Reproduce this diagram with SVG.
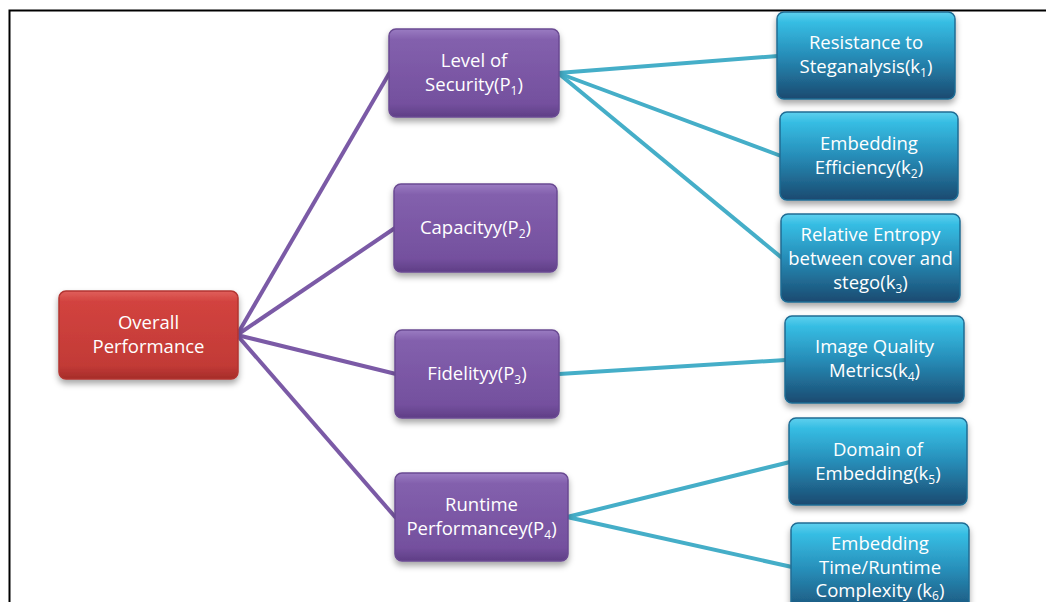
<svg xmlns="http://www.w3.org/2000/svg" width="1046" height="602" viewBox="0 0 1046 602">
<defs>
<linearGradient id="gRed" x1="0" y1="0" x2="0" y2="1">
<stop offset="0" stop-color="#e0605c"/><stop offset="0.12" stop-color="#d2433f"/><stop offset="0.85" stop-color="#c23a36"/><stop offset="1" stop-color="#a52c29"/>
</linearGradient>
<linearGradient id="gPur" x1="0" y1="0" x2="0" y2="1">
<stop offset="0" stop-color="#9a7cc2"/><stop offset="0.12" stop-color="#8360ad"/><stop offset="0.85" stop-color="#74509e"/><stop offset="1" stop-color="#5f3e86"/>
</linearGradient>
<linearGradient id="gBlu" x1="0" y1="0" x2="0" y2="1">
<stop offset="0" stop-color="#5fd0ee"/><stop offset="0.12" stop-color="#36bde3"/><stop offset="0.5" stop-color="#278db8"/><stop offset="1" stop-color="#1a4a70"/>
</linearGradient>
<filter id="sh" x="-10%" y="-10%" width="125%" height="135%">
<feDropShadow dx="0" dy="4" stdDeviation="3" flood-color="#000" flood-opacity="0.35"/>
</filter>
<style>
.r{fill:url(#gRed);stroke:#b23431;stroke-width:1.5;filter:url(#sh)}
.p{fill:url(#gPur);stroke:#6a4a92;stroke-width:1.5;filter:url(#sh)}
.b{fill:url(#gBlu);stroke:#1f6c94;stroke-width:1.5;filter:url(#sh)}
text{font-family:"Open Sans","Liberation Sans",sans-serif;font-size:18.5px;fill:#fff;text-anchor:middle}
.s{font-size:12px}
.cp{stroke:#7b5aa6;stroke-width:4;fill:none}
.cb{stroke:#45aec8;stroke-width:4;fill:none}
</style>
</defs>
<rect width="1046" height="602" fill="#fff"/>
<path d="M9.5,602 V10.5 H1046" fill="none" stroke="#000" stroke-width="2"/>
<g id="connectors">
<line class="cp" x1="237" y1="335" x2="390" y2="72"/>
<line class="cp" x1="237" y1="335" x2="395" y2="228"/>
<line class="cp" x1="237" y1="335" x2="396" y2="374"/>
<line class="cp" x1="237" y1="335" x2="396" y2="518"/>
<line class="cb" x1="558" y1="73" x2="778" y2="56"/>
<line class="cb" x1="558" y1="73" x2="781" y2="156"/>
<line class="cb" x1="558" y1="73" x2="782" y2="258"/>
<line class="cb" x1="559" y1="374" x2="786" y2="360"/>
<line class="cb" x1="567" y1="517" x2="790" y2="462"/>
<line class="cb" x1="567" y1="517" x2="792" y2="567"/>
</g>
<g id="overall"><rect class="r" x="59" y="291" width="179" height="88" rx="7"/>
<text x="148.5" y="329">Overall</text><text x="148.5" y="353">Performance</text></g>
<g id="p1"><rect class="p" x="389" y="29" width="170" height="88" rx="7"/>
<text x="474" y="67">Level of</text><text x="474" y="91">Security(P<tspan class="s" dy="4">1</tspan><tspan dy="-4">)</tspan></text></g>
<g id="p2"><rect class="p" x="394" y="184" width="163" height="88" rx="7"/>
<text x="475.5" y="234">Capacityy(P<tspan class="s" dy="4">2</tspan><tspan dy="-4">)</tspan></text></g>
<g id="p3"><rect class="p" x="395" y="330" width="164" height="88" rx="7"/>
<text x="477" y="380">Fidelityy(P<tspan class="s" dy="4">3</tspan><tspan dy="-4">)</tspan></text></g>
<g id="p4"><rect class="p" x="395" y="473" width="173" height="88" rx="7"/>
<text x="481.5" y="511">Runtime</text><text x="481.5" y="535">Performancey(P<tspan class="s" dy="4">4</tspan><tspan dy="-4">)</tspan></text></g>
<g id="k1"><rect class="b" x="777" y="12" width="178" height="87" rx="7"/>
<text x="866" y="49">Resistance to</text><text x="866" y="73">Steganalysis(k<tspan class="s" dy="4">1</tspan><tspan dy="-4">)</tspan></text></g>
<g id="k2"><rect class="b" x="780" y="112" width="178" height="88" rx="7"/>
<text x="869" y="150">Embedding</text><text x="869" y="174">Efficiency(k<tspan class="s" dy="4">2</tspan><tspan dy="-4">)</tspan></text></g>
<g id="k3"><rect class="b" x="781" y="214" width="179" height="88" rx="7"/>
<text x="870.5" y="241">Relative Entropy</text><text x="870.5" y="265">between cover and</text><text x="870.5" y="289">stego(k<tspan class="s" dy="4">3</tspan><tspan dy="-4">)</tspan></text></g>
<g id="k4"><rect class="b" x="785" y="316" width="179" height="87" rx="7"/>
<text x="874.5" y="353">Image Quality</text><text x="874.5" y="377">Metrics(k<tspan class="s" dy="4">4</tspan><tspan dy="-4">)</tspan></text></g>
<g id="k5"><rect class="b" x="789" y="418" width="178" height="87" rx="7"/>
<text x="878" y="456">Domain of</text><text x="878" y="480">Embedding(k<tspan class="s" dy="4">5</tspan><tspan dy="-4">)</tspan></text></g>
<g id="k6"><rect class="b" x="791" y="523" width="178" height="95" rx="7"/>
<text x="880" y="550">Embedding</text><text x="880" y="574">Time/Runtime</text><text x="880" y="597">Complexity (k<tspan class="s" dy="3">6</tspan><tspan dy="-3">)</tspan></text></g>
</svg>
